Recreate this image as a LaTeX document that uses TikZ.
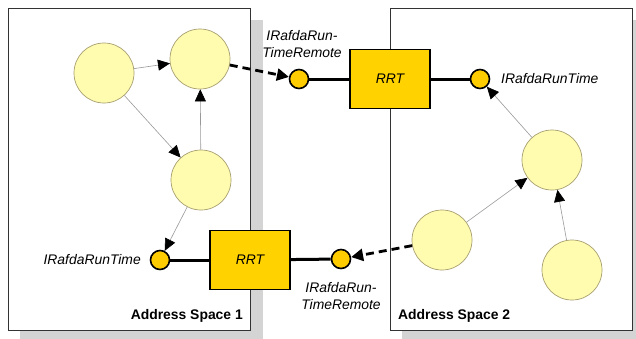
\documentclass[tikz,border=0pt]{standalone}
\usepackage{fontspec}
\setmainfont{Liberation Sans}
\usetikzlibrary{arrows.meta}
\definecolor{blob}{HTML}{FFFBAF}
\definecolor{blobline}{HTML}{A89F70}
\definecolor{port}{HTML}{FFCC00}
\definecolor{rrtfill}{HTML}{FFD200}
\definecolor{shadowgray}{HTML}{D4D4D4}
\newcommand{\diagfont}{\fontsize{13.9}{17}\selectfont}
\tikzset{
  blobnode/.style={circle,draw=blobline,fill=blob,line width=0.7pt,minimum size=60pt,inner sep=0pt},
  portnode/.style={circle,draw=black,fill=port,line width=1.6pt,minimum size=19pt,inner sep=0pt},
  rrtnode/.style={rectangle,draw=black,fill=rrtfill,line width=1.8pt,minimum width=80pt,minimum height=59pt,inner sep=0pt,font=\diagfont\itshape},
  thinarrow/.style={draw=black!40,line width=0.6pt,-{Triangle[length=12pt,width=11pt,fill=black,color=black]}},
  dasharrow/.style={draw=black,line width=2.8pt,dash pattern=on 8pt off 5pt,-{Triangle[length=12pt,width=12pt]}},
  wire/.style={draw=black,line width=3pt},
  lbl/.style={font=\diagfont\itshape,inner sep=0pt,align=center},
  spacelbl/.style={font=\diagfont\bfseries,inner sep=0pt}
}
\begin{document}
\begin{tikzpicture}[x=1pt,y=-1pt]
\useasboundingbox (0,0) rectangle (636,338);
\clip (0,0) rectangle (636,338);
% shadows
\fill[shadowgray] (20,20) rectangle (263,345);
\fill[shadowgray] (402,20) rectangle (645,345);
% address space boxes
\draw[fill=white,draw=black!80,line width=0.8pt] (8,8) rectangle (250,330);
\draw[fill=white,draw=black!80,line width=0.8pt] (390,8) rectangle (632,330);
% blobs
\node[blobnode] (c1) at (104,73) {};
\node[blobnode] (c2) at (200,59) {};
\node[blobnode] (c3) at (201,180) {};
\node[blobnode] (c4) at (552,160) {};
\node[blobnode] (c5) at (442,240) {};
\node[blobnode] (c6) at (572,270) {};
% RRT boxes and ports
\node[rrtnode] (r1) at (390,79) {RRT};
\node[rrtnode] (r2) at (250,260) {RRT};
\node[portnode] (p1) at (299,79) {};
\node[portnode] (p2) at (480,79) {};
\node[portnode] (p3) at (160,260) {};
\node[portnode] (p4) at (341,259) {};
\draw[wire] (p1) -- (r1);
\draw[wire] (r1) -- (p2);
\draw[wire] (p3) -- (r2);
\draw[wire] (r2) -- (p4);
% thin arrows
\draw[thinarrow] (c1) -- (c2);
\draw[thinarrow] (c1) -- (c3);
\draw[thinarrow] (c3) -- (c2);
\draw[thinarrow] (c3) -- (p3);
\draw[thinarrow] (c4) -- (p2);
\draw[thinarrow] (c5) -- (c4);
\draw[thinarrow] (c6) -- (c4);
% dashed arrows
\draw[dasharrow] (c2) -- (p1);
\draw[dasharrow] (c5) -- (p4);
% labels
\node[lbl] (l1) at (302,44) {IRafdaRun-\\TimeRemote};
\node[lbl,anchor=west] (l2) at (501,79) {IRafdaRunTime};
\node[lbl,anchor=east] (l3) at (141,260) {IRafdaRunTime};
\node[lbl] (l4) at (341,296) {IRafdaRun-\\TimeRemote};
\node[spacelbl,anchor=east] (a1) at (243,316) {Address Space 1};
\node[spacelbl,anchor=west] (a2) at (398,316) {Address Space 2};
\end{tikzpicture}
\end{document}
